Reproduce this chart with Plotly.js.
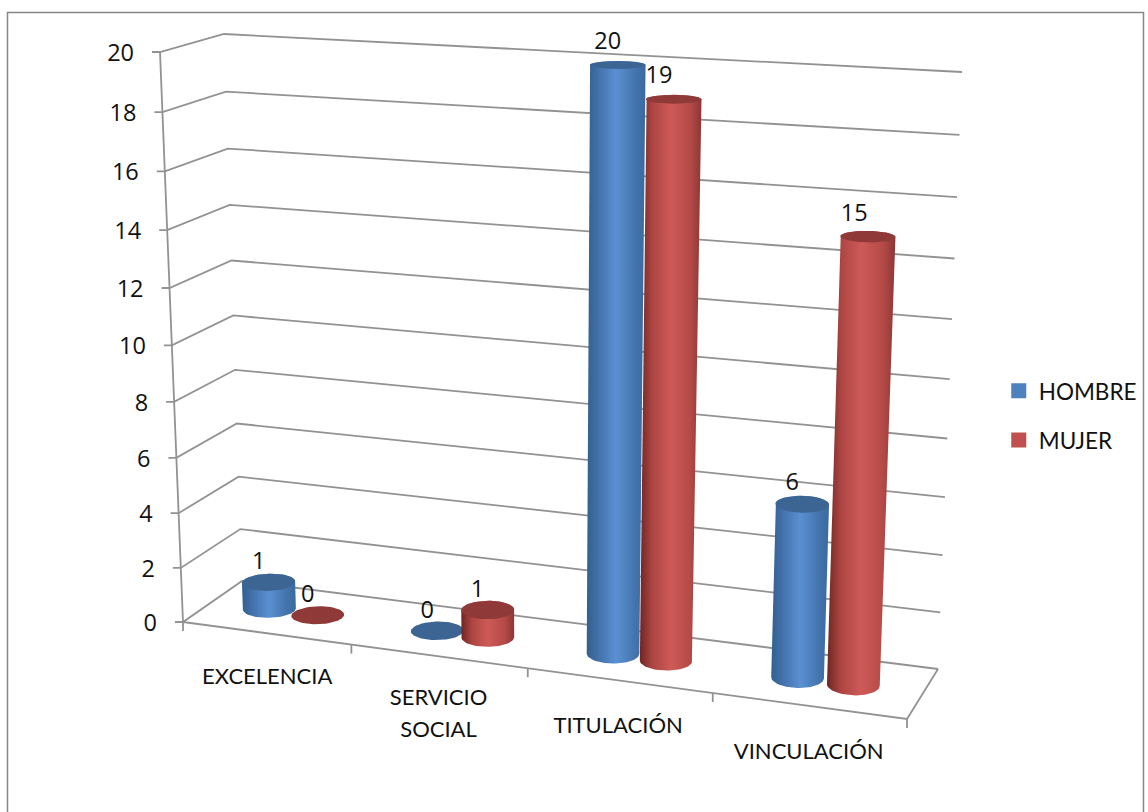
<!DOCTYPE html>
<html><head><meta charset="utf-8">
<script src="https://cdn.plot.ly/plotly-3.0.1.min.js"></script>
<style>html,body{margin:0;padding:0;background:#fff}#c{width:1148px;height:812px}</style>
</head><body><div id="c"></div>
<script>
// ---- data
const categories = ['EXCELENCIA', 'SERVICIO<br>SOCIAL', 'TITULACIÓN', 'VINCULACIÓN'];
const hombre = [1, 0, 20, 6];
const mujer = [0, 1, 19, 15];
const seriesNames = ['HOMBRE', 'MUJER'];
const valueTicks = [0, 2, 4, 6, 8, 10, 12, 14, 16, 18, 20];
const valueMax = 20;

// ---- style
const TEXT_FONT = {family:'Lato, sans-serif', size:22, color:'#111'};
const NUM_FONT = {family:'"Open Sans", sans-serif', size:23.5, color:'#111'};
const GRID = '#929292';
const palette = [
  {key:'#4f81bd', top:'#3d6594',
   scale:[[0,'#31608f'],[0.18,'#426fa8'],[0.5,'#5a90d2'],[0.82,'#4474ad'],[1,'#386a9f']]},
  {key:'#c0504d', top:'#8f3a38',
   scale:[[0,'#6f2624'],[0.2,'#ac4542'],[0.5,'#ce5a57'],[0.82,'#b44a47'],[1,'#8c3734']]}
];

// ---- oblique projection of the chart box onto the axis plane (plot units = page pixels)
const box = {
  fl:[183,622], fr:[907,719], bl:[242,581], br:[938,669],
  flt:[160,52], frt:[931,92], blt:[224,34], brt:[962,72]
};
const warp = (t, r) => t / (t + (1 - t) * r);
function corner(u, d, a, b, c, e) {
  const f = [a[0]+(b[0]-a[0])*u, a[1]+(b[1]-a[1])*u];
  const k = [c[0]+(e[0]-c[0])*u, c[1]+(e[1]-c[1])*u];
  return [f[0]+(k[0]-f[0])*d, f[1]+(k[1]-f[1])*d];
}
// u: warped position along categories, d: depth (0 front, 1 back), z: value fraction
function project(u, d, z) {
  const w = warp(z, 1.06);
  const lo = corner(u, d, box.fl, box.fr, box.bl, box.br);
  const hi = corner(u, d, box.flt, box.frt, box.blt, box.brt);
  return [lo[0]+(hi[0]-lo[0])*w, lo[1]+(hi[1]-lo[1])*w];
}
const catU = t => warp(t, 1.1);

const traces = [];
const line = (pts, width) => traces.push({
  x: pts.map(p => p[0]), y: pts.map(p => p[1]), mode:'lines', showlegend:false, hoverinfo:'skip',
  line:{color:GRID, width:width||1.8}
});
const label = (pos, text, font, anchor) => traces.push({
  x:[pos[0]], y:[pos[1]], text:[text], mode:'text', textposition:anchor||'middle center',
  textfont:font, showlegend:false, hoverinfo:'skip', cliponaxis:false
});

// walls and floor
valueTicks.forEach(v => {
  const z = v / valueMax;
  const a = project(0,0,z), b = project(0,1,z), c = project(1,1,z);
  line([[a[0]-8,a[1]], a, b, c]);
  label([a[0]-26, a[1]+3], String(v), NUM_FONT, 'middle left');
});
line([project(0,0,0), project(0,0,1)]);
line([project(0,0,0), project(1,0,0), project(1,1,0)]);
categories.forEach((c, i) => {
  const t0 = project(catU(i/categories.length),0,0);
  line([t0, [t0[0], t0[1]+9]]);
});
const tEnd = project(1,0,0);
line([tEnd, [tEnd[0], tEnd[1]+9]]);

// category labels sit below the front edge
const labelDrop = [[1,45],[0,43],[-1,47],[0,48]];
const labelLeading = 32;
categories.forEach((c, i) => {
  const p = project(catU((i+0.5)/categories.length),0,0);
  c.split('<br>').forEach((txt, k) =>
    label([p[0]+labelDrop[i][0], p[1]+labelDrop[i][1]+k*labelLeading], txt, TEXT_FONT));
});

// cylinders
function hull(pts) {
  const s = pts.slice().sort((a,b)=>a[0]-b[0]||a[1]-b[1]);
  const cross=(o,a,b)=>(a[0]-o[0])*(b[1]-o[1])-(a[1]-o[1])*(b[0]-o[0]);
  const half = arr => { const h=[]; arr.forEach(p=>{ while(h.length>1&&cross(h[h.length-2],h[h.length-1],p)<=0)h.pop(); h.push(p);}); h.pop(); return h; };
  return half(s).concat(half(s.slice().reverse()));
}
function ring(u, z) {
  const ru = 0.0335*(1+0.08*u), rd = 0.2, out = [];
  for (let i=0;i<=72;i++){ const a=i/72*2*Math.PI; out.push(project(u+ru*Math.cos(a), 0.5+rd*Math.sin(a), z)); }
  return out;
}
const dataLabels = [];
categories.forEach((c, i) => {
  [hombre[i], mujer[i]].forEach((v, s) => {
    const t = (i + 0.5 + (s ? 0.143 : -0.15)) / categories.length;
    const u = catU(t), z = v / valueMax, col = palette[s];
    const topRing = ring(u, z);
    if (v > 0) {
      const body = hull(ring(u, 0).concat(topRing));
      body.push(body[0]);
      traces.push({
        x: body.map(p=>p[0]), y: body.map(p=>p[1]), mode:'lines', fill:'toself', showlegend:false,
        name:seriesNames[s], hoverinfo:'skip', line:{width:0, color:col.key},
        fillgradient:{type:'horizontal', colorscale:col.scale}
      });
    }
    traces.push({
      x: topRing.map(p=>p[0]), y: topRing.map(p=>p[1]), mode:'lines', fill:'toself', showlegend:false,
      hoverinfo:'skip', line:{width:0, color:col.top}, fillcolor:col.top
    });
    const p = project(u, 0.5, z);
    dataLabels.push([[p[0]-10-(s?5*z:0), p[1]-19-3*z], String(v)]);
  });
});
dataLabels.forEach(d => label(d[0], d[1], NUM_FONT));

// legend keys
seriesNames.forEach((n, s) => traces.push({
  x:[null], y:[null], name:n, mode:'markers', legendgroup:n, showlegend:true,
  marker:{symbol:'square', size:15, color:palette[s].key}
}));

const layout = {
  width:1148, height:812, margin:{l:0,r:0,t:0,b:0},
  paper_bgcolor:'#fff', plot_bgcolor:'#fff',
  xaxis:{range:[0,1148], visible:false, fixedrange:true},
  yaxis:{range:[812,0], visible:false, fixedrange:true},
  font:TEXT_FONT,
  showlegend:true,
  legend:{x:0.87, y:0.488, yanchor:'middle', xanchor:'left', tracegroupgap:17,
    bgcolor:'rgba(0,0,0,0)', font:{family:'Lato, sans-serif',size:22.5,color:'#111'}},
  shapes:[{type:'rect', xref:'paper', yref:'paper', x0:7.5/1148, x1:1143.5/1148, y0:-0.02, y1:1-12.5/812,
    line:{color:'#868686', width:1.5}, fillcolor:'rgba(0,0,0,0)', layer:'below'}]
};
Plotly.newPlot('c', traces, layout, {displayModeBar:false, staticPlot:true});
</script></body></html>
